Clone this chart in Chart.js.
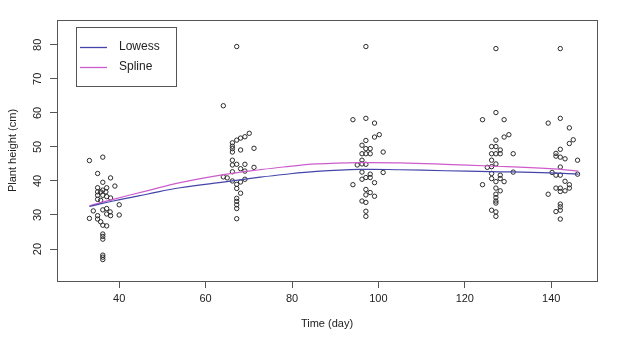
<!DOCTYPE html>
<html>
<head>
<meta charset="utf-8">
<script src="https://cdn.jsdelivr.net/npm/chart.js@4.4.1/dist/chart.umd.min.js"></script>
<style>
  html, body { margin: 0; padding: 0; background: #fff; }
  #wrap { width: 628px; height: 347px; }
</style>
</head>
<body>
<div id="wrap"><canvas id="chart" width="628" height="347"></canvas></div>
<script>
// observations per sampling round: [day, plant height (cm)]
const round1 = [
  [33.1, 46.0], [36.2, 47.0], [35.0, 42.2], [36.2, 39.6], [38.0, 40.9], [35.0, 38.0], [37.1, 38.0],
  [39.0, 38.5], [36.2, 37.3], [35.0, 36.8], [35.7, 36.8], [36.9, 36.8], [35.0, 35.8], [36.2, 35.8],
  [37.1, 35.4], [38.0, 35.0], [35.0, 34.6], [35.7, 34.3], [40.0, 33.0], [37.1, 31.9], [34.0, 31.2],
  [36.2, 31.5], [37.9, 30.9], [37.1, 30.3], [38.0, 29.8], [40.0, 30.0], [35.0, 29.8], [33.1, 29.0],
  [35.0, 28.8], [35.7, 28.0], [36.2, 27.0], [37.1, 26.8], [36.2, 24.4], [36.2, 23.7], [36.2, 22.9],
  [36.2, 18.2], [36.2, 17.6], [36.2, 16.9]
];
const round2 = [
  [67.2, 79.5], [64.1, 62.1], [70.1, 54.0], [69.1, 53.0], [68.1, 52.6], [67.2, 52.0], [66.2, 51.2],
  [66.2, 50.2], [66.2, 49.5], [66.2, 48.5], [68.1, 49.1], [71.2, 49.6], [66.2, 46.1], [66.2, 44.7],
  [67.2, 44.9], [69.1, 44.9], [68.1, 43.6], [71.2, 44.0], [66.2, 42.7], [69.1, 42.9], [64.1, 41.2],
  [65.0, 40.9], [66.2, 40.0], [68.1, 39.7], [69.1, 40.5], [67.2, 39.0], [67.2, 37.8], [68.1, 36.4],
  [67.2, 34.9], [67.2, 34.0], [67.2, 33.0], [67.2, 31.9], [67.2, 28.9]
];
const round3 = [
  [97.1, 79.5], [94.1, 58.0], [97.1, 58.4], [99.1, 57.0], [100.2, 53.6], [99.1, 52.9], [97.1, 51.9],
  [96.2, 50.5], [97.1, 49.5], [98.1, 49.5], [96.2, 48.0], [97.1, 48.0], [98.1, 48.0], [101.1, 48.5],
  [96.2, 46.1], [95.1, 44.7], [96.2, 45.0], [97.1, 44.9], [96.2, 42.6], [101.1, 42.5], [98.1, 42.0],
  [97.1, 41.0], [96.2, 40.5], [98.1, 41.0], [99.1, 39.5], [94.1, 38.9], [97.1, 37.5], [98.1, 36.6],
  [99.1, 35.5], [97.1, 35.9], [96.2, 34.1], [97.1, 33.7], [97.1, 31.1], [97.1, 29.6]
];
const round4 = [
  [127.2, 78.9], [127.2, 60.1], [124.1, 58.0], [129.1, 58.0], [130.2, 53.6], [129.1, 52.9], [127.2, 52.0],
  [126.2, 50.1], [127.2, 50.1], [128.2, 49.1], [126.2, 48.0], [127.2, 48.0], [128.2, 48.0], [131.2, 48.0],
  [126.2, 46.1], [127.2, 45.0], [125.2, 44.0], [126.2, 44.2], [126.2, 42.2], [131.2, 42.6], [128.2, 41.7],
  [126.2, 40.7], [128.2, 40.7], [127.2, 39.8], [129.1, 39.8], [124.1, 38.9], [127.2, 37.9], [128.2, 37.1],
  [127.2, 36.1], [127.2, 35.1], [127.2, 34.1], [127.2, 33.5], [126.2, 31.4], [127.2, 30.9], [127.2, 29.6]
];
const round5 = [
  [142.1, 78.9], [139.3, 57.0], [142.1, 58.4], [144.2, 55.6], [145.1, 52.1], [144.2, 51.0], [142.1, 49.3],
  [141.1, 48.1], [141.1, 47.3], [142.1, 47.0], [143.2, 46.5], [146.1, 46.1], [142.1, 44.1], [140.2, 42.5],
  [141.1, 41.7], [142.1, 41.7], [146.1, 42.0], [143.2, 39.9], [144.2, 38.9], [141.1, 37.9], [142.1, 37.9],
  [143.2, 37.1], [144.2, 37.9], [142.1, 36.9], [139.3, 36.1], [142.1, 33.2], [142.1, 32.4], [141.1, 31.0],
  [142.1, 31.4], [142.1, 28.8]
];

// fitted curves, sampled along the time axis
const curveDays = [33.1, 38.6, 46.4, 54.1, 64.9, 72.6, 78.0, 85.7, 95.7, 105.0, 115.4, 125.8, 139.7, 146.3];
const lowessHeights = [32.5, 34.1, 36.1, 38.0, 39.8, 41.1, 41.9, 42.8, 43.4, 43.3, 43.0, 42.75, 42.4, 42.0];
const splineHeights = [32.7, 34.6, 37.1, 39.5, 42.0, 43.3, 44.1, 45.0, 45.4, 45.3, 44.9, 44.4, 43.6, 42.9];

const xTicks = [40, 60, 80, 100, 120, 140];
const yTicks = [20, 30, 40, 50, 60, 70, 80];

Chart.defaults.font.family = '"Liberation Sans", Arial, sans-serif';
Chart.defaults.font.size = 11;
Chart.defaults.color = "#222";

const toPoints = rows => rows.map(([x, y]) => ({ x, y }));
const curve = heights => curveDays.map((x, i) => ({ x, y: heights[i] }));

// box around the plot region
const frame = {
  id: "frame",
  afterDatasetsDraw(chart) {
    const { ctx, chartArea: a } = chart;
    ctx.save();
    ctx.strokeStyle = "#555";
    ctx.lineWidth = 1;
    ctx.strokeRect(a.left + 0.5, a.top + 0.5, a.right - a.left, a.bottom - a.top);
    ctx.restore();
  }
};

// boxed legend in the top-left corner, one line sample per fitted curve
const boxedLegend = {
  id: "boxedLegend",
  afterDraw(chart) {
    const { ctx, chartArea: a } = chart;
    const curves = chart.data.datasets.filter(ds => ds.type === "line");
    const left = a.left + 19, top = a.top + 7;
    ctx.save();
    ctx.fillStyle = "#fff";
    ctx.fillRect(left, top, 100, 59);
    ctx.strokeStyle = "#555";
    ctx.lineWidth = 1;
    ctx.strokeRect(left + 0.5, top + 0.5, 100, 59);
    ctx.font = '12px "Liberation Sans", Arial, sans-serif';
    ctx.textBaseline = "middle";
    curves.forEach((ds, i) => {
      const y = top + 20 + i * 20;
      ctx.strokeStyle = ds.borderColor;
      ctx.lineWidth = 1.3;
      ctx.beginPath();
      ctx.moveTo(left + 4, y + 0.5);
      ctx.lineTo(left + 31, y + 0.5);
      ctx.stroke();
      ctx.fillStyle = "#222";
      ctx.fillText(ds.label, left + 43, y);
    });
    ctx.restore();
  }
};

new Chart(document.getElementById("chart"), {
  type: "scatter",
  data: {
    datasets: [
      {
        type: "line", label: "Lowess", data: curve(lowessHeights),
        borderColor: "#4444aa", borderWidth: 1.2, pointRadius: 0,
        tension: 0.4, order: 0
      },
      {
        type: "line", label: "Spline", data: curve(splineHeights),
        borderColor: "#cc5ccc", borderWidth: 1.2, pointRadius: 0,
        tension: 0.4, order: 0
      },
      {
        label: "Observed",
        data: toPoints([...round1, ...round2, ...round3, ...round4, ...round5]),
        pointStyle: "circle", pointRadius: 2.2, borderWidth: 1,
        borderColor: "#2a2a2a", backgroundColor: "rgba(0,0,0,0)", order: 1
      }
    ]
  },
  options: {
    responsive: false,
    animation: false,
    devicePixelRatio: 1,
    layout: { padding: { left: 0, top: 20, right: 31, bottom: 0 } },
    plugins: { legend: { display: false }, tooltip: { enabled: false } },
    scales: {
      x: {
        type: "linear", min: 25.6, max: 150.6,
        afterBuildTicks: s => { s.ticks = xTicks.map(value => ({ value })); },
        afterFit: s => { s.height = 66; },
        border: { display: false },
        grid: { drawOnChartArea: false, tickLength: 7, color: "#555" },
        ticks: { padding: 4, maxRotation: 0, color: "#222" },
        title: { display: true, text: "Time (day)", color: "#222", padding: { top: 0, bottom: 16 } }
      },
      y: {
        type: "linear", min: 10.6, max: 87.3,
        afterBuildTicks: s => { s.ticks = yTicks.map(value => ({ value })); },
        afterFit: s => { s.width = 57; },
        border: { display: false },
        grid: { drawOnChartArea: false, tickLength: 7, color: "#555" },
        ticks: { padding: 6, minRotation: 90, maxRotation: 90, crossAlign: "center", color: "#222" },
        title: { display: true, text: "Plant height (cm)", color: "#222", padding: { top: 6, bottom: 0 } }
      }
    }
  },
  plugins: [frame, boxedLegend]
});
</script>
</body>
</html>
